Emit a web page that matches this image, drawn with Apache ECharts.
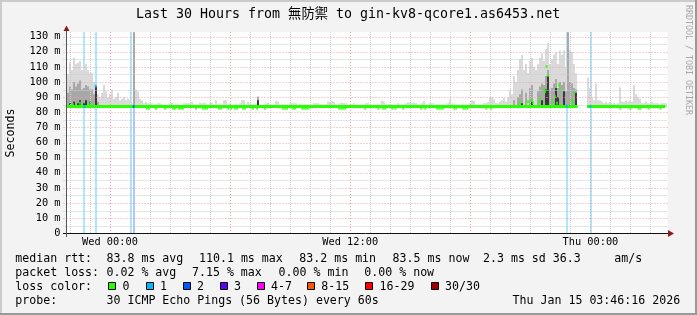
<!DOCTYPE html>
<html><head><meta charset="utf-8">
<script src="https://cdn.jsdelivr.net/npm/echarts@6/dist/echarts.min.js"></script>
<style>html,body{margin:0;padding:0;background:#f3f3f3}#c{width:697px;height:315px}</style>
</head><body><div id="c"></div>
<script>
// ---------- data ----------
const T0 = -2.17;            // hours relative to Wed 00:00 at left edge of graph
const STEP = 0.1;            // hours per smoke sample
const X_MAX = 27.85;
const Y_MAX = 133.1;
const xTickHours = [0, 12, 24];
const xTickLabels = ['Wed 00:00', 'Wed 12:00', 'Thu 00:00'];
const gridMinorHours = [-2,-1,1,2,3,4,5,7,8,9,10,11,13,14,15,16,17,19,20,21,22,23,25,26,27];
const gridMajorHours = [0,6,12,18,24];
const gridMinorMs = [5,15,25,35,45,55,65,75,85,95,105,115,125];
const gridMajorMs = [10,20,30,40,50,60,70,80,90,100,110,120,130];

// smoke: highest ping per sample (ms)
const smokeHi = [
105,113,108,116,112,113,114,108,110,112,108,106,106,100,97,92,90,93,98,94,
90,92,95,89,90,93,88,89,90,88,89,88,86,133,95,94,89,88,86,87,
86,86,86,85,85,86,86,85,85,85,85,86,86.4,85,85,85,85,85,86,86,
86,86,87,85,85,85,86.4,86,86.4,86,85,86.4,86.4,85,88,85,85,85,88,88.2,
85,86,85,85,85,85,86,88.2,88,85,87,86,85,85,86,90.8,85,85,85,86,
86.5,85,85,85,87.7,87,85,85,85,85,85,86,86,86,86,85,85.5,85,85,85,
85,85,85,86,86,86,85,85,85,85,87,87,87.5,87,85,85,86,86.4,86,86,
85,85,85,86,85,85,85,85,85,86,86,85,85,85,85,85,85,87.7,87,85,
85,85,85,85,85,86,85,85,85,86,86.5,86.5,86,86.5,86,85,85,86,87.5,85,
85,86,86,85,85,85,85,85,85,85,86,88.6,86,85,85,85,85,85,85,85,
85,86,88,87.7,85,85,85,85,86,86,87,89.9,90,88.6,86,86,87,88,89.5,87,
90,95,92,104,100,108,115,118,108,112,106,114,116,110,108,112,116,119,114,122,
126,112,115,118,120,112,121,118,121,110,133,121,120,112,106,null,null,null,null,null,
103,96,90,88,99,88,88,87,86,87,86,87,86,86,85,86,96.5,87,87,88,
87,88,87,98,92,90,89,86,86,87,86,86,87,86,86,86,85,86,86,86
];
// denser smoke cores: [sample index, mid-grey top, dark top]
const smokeCore = [
[0,93,0],[1,97,86],[2,95,0],[3,100,87],[4,97,0],[5,99,86],[6,101,88],[7,95,0],[8,96,86],
[9,98,88],[10,97,0],[11,95,87],[12,95,0],[13,92,0],[14,97,97],[15,87,0],
[33,133,0],[95,90,88],
[223,88,0],[225,90,0],[226,92,0],[227,95,86],[229,93,0],[231,96,0],[232,98,87],[235,94,0],
[236,97,0],[237,99,88],[238,98,0],[239,104,95],[240,108,104],[241,95,0],[242,96,0],[243,99,0],
[244,102,96],[245,96,90],[246,100,0],[247,98,0],[248,100,94],[249,94,0],[250,133,0],[251,100,0],
[252,99,0],[253,96,0],[254,95,93]
];
const medianBase = 83.8;
const medianSegments = [[-2.15, 23.36], [23.83, 27.74]];  // [start h, end h]
const medianDipMs = 82.4;
const medianDipHours = [1.85,1.95,2.30,2.75,3.15,3.25,3.45,3.55,3.65,4.30,4.65,4.75,4.85,5.45,5.55,5.90,
6.05,6.25,6.35,6.65,6.75,7.15,7.35,7.75,8.65,8.75,8.85,9.15,9.25,9.60,9.70,9.80,9.90,11.45,11.55,11.65,
11.75,12.75,13.40,13.65,13.75,14.10,14.25,14.65,15.55,15.75,16.35,16.45,16.55,16.65,17.20,17.30,17.65,
17.75,17.85,18.80,19.05,25.50,26.00,26.40,26.50,26.90,27.50];
// median points off the base line: [hour, ms, loss level]
const medianPts = [
[-1.85,85,0],[-1.50,86,0],[-1.00,85.5,0],[-0.71,97.4,1],[-1.28,83.8,1],[1.18,83.8,2],
[20.48,86.8,0],[20.88,87,0],[21.03,88,0],[21.13,86.5,0],[21.43,87,0],[21.48,89.3,0],[21.68,94.8,0],
[21.73,93.7,0],[21.81,110.3,0],[21.88,104.5,0],[22.08,87,0],[22.23,90.3,0],[22.33,86,0],[22.43,98,0],
[22.48,95.3,0],[22.81,83.8,1],[23.06,88,0],[23.13,87,0],[23.18,92.7,0],[24.00,83.8,1]
];
// loss events: [hour, loss level]
const lossEvents = [[-1.28,1],[-0.68,1],[1.06,1],[1.18,2],[22.81,1],[24.01,1]];
const lossColors = ['#26ff00','#00b8ff','#0059ff','#5e00ff','#ff00ff','#ff5500','#ff0000','#a00000'];
const lossLabels = ['0','1','2','3','4-7','8-15','16-29','30/30'];

const titleText = 'Last 30 Hours from 無防禦 to gin-kv8-qcore1.as6453.net';
const statRows = [
  [[15.3,'median rtt:'],[106.5,'83.8 ms avg'],[199,'110.1 ms max'],[299.3,'83.2 ms min'],[392.6,'83.5 ms now'],[483,'2.3 ms sd'],[552.8,'36.3'],[614.3,'am/s']],
  [[15.3,'packet loss:'],[106.5,'0.02 % avg'],[192,'7.15 % max'],[278.6,'0.00 % min'],[364.3,'0.00 % now']],
  [[15.3,'loss color:']],
  [[15.3,'probe:'],[106.5,'30 ICMP Echo Pings (56 Bytes) every 60s'],[512.6,'Thu Jan 15 03:46:16 2026']]
];
const statRowY = [259.3, 273.3, 287.3, 301.3];
const legendBoxX = [108.3,145.7,182.7,219.7,256.7,307,365.3,430.7];

// ---------- chart ----------
const MONO = '"DejaVu Sans Mono", "Noto Sans CJK TC", monospace';
const GL = 66.5, GT = 32, GW = 601, GH = 201.3;
const SMOKE_BASE = 83.3;
const hourOf = i => T0 + STEP * (i + 0.5);

const coreMap = {};
smokeCore.forEach(([i, m, d]) => { coreMap[i] = [m, d]; });
const smokeData = [];
smokeHi.forEach((v, i) => {
  if (v == null) return;
  const c = coreMap[i] || [0, 0];
  smokeData.push([hourOf(i), v, c[0], c[1]]);
});
const medianLineData = [];
medianSegments.forEach(([s, e]) => {
  medianLineData.push([s, medianBase], [e, medianBase], [e, null]);
});
const gridVData = gridMinorHours.map(h => [h, 0, 0]).concat(gridMajorHours.map(h => [h, 0, 1]));
const gridHData = gridMinorMs.map(v => [T0, v, 0]).concat(gridMajorMs.map(v => [T0, v, 1]));

const chart = echarts.init(document.getElementById('c'), null, {renderer: 'canvas', width: 697, height: 315});

const graphics = [
  {type:'rect', shape:{x:0,y:0,width:697,height:2}, style:{fill:'#cbcbcb'}, z:10},
  {type:'rect', shape:{x:0,y:0,width:2,height:315}, style:{fill:'#cbcbcb'}, z:10},
  {type:'rect', shape:{x:0,y:313,width:697,height:2}, style:{fill:'#999999'}, z:10},
  {type:'rect', shape:{x:695,y:0,width:2,height:315}, style:{fill:'#999999'}, z:10},
  // axes
  {type:'line', shape:{x1:63,y1:233.5,x2:668,y2:233.5}, style:{stroke:'#111',lineWidth:1}, z:20},
  {type:'line', shape:{x1:66.5,y1:237,x2:66.5,y2:30}, style:{stroke:'#555',lineWidth:1}, z:20},
  {type:'polygon', shape:{points:[[668,230],[674,233.5],[668,237]]}, style:{fill:'#8e1b1b'}, z:20},
  {type:'polygon', shape:{points:[[63.5,31],[66.5,25.5],[69.5,31]]}, style:{fill:'#8e1b1b'}, z:20},
  // title & side texts
  {type:'text', x:136, y:15, style:{text:titleText, font:'13.3px ' + MONO, fill:'#000', textVerticalAlign:'middle'}, z:20},
  {type:'text', x:11, y:133, rotation:Math.PI/2, style:{text:'Seconds', font:'11.6px ' + MONO, fill:'#000', textAlign:'center', textVerticalAlign:'middle'}, z:20},
  {type:'text', x:688, y:60, rotation:-Math.PI/2, style:{text:'RRDTOOL / TOBI OETIKER', font:'8.3px ' + MONO, fill:'#a8a8a8', textAlign:'center', textVerticalAlign:'middle'}, z:20}
];
statRows.forEach((row, r) => {
  row.forEach(([x, t]) => {
    graphics.push({type:'text', x:x, y:statRowY[r], style:{text:t, font:'11.6px ' + MONO, fill:'#000', textVerticalAlign:'middle'}, z:20});
  });
});
legendBoxX.forEach((bx, k) => {
  graphics.push({type:'rect', shape:{x:Math.round(bx)+0.5, y:282.5, width:7, height:7}, style:{fill:lossColors[k], stroke:'#000', lineWidth:1}, z:20});
  graphics.push({type:'text', x:bx + 14.3, y:statRowY[2], style:{text:lossLabels[k], font:'11.6px ' + MONO, fill:'#000', textVerticalAlign:'middle'}, z:20});
});

const option = {
  backgroundColor: '#f3f3f3',
  animation: false,
  grid: {left: GL, top: GT, width: GW, height: GH, show: true, backgroundColor: '#ffffff', borderWidth: 0, containLabel: false, outerBoundsMode: 'none'},
  xAxis: {
    type: 'value', min: T0, max: X_MAX,
    axisLine: {show: false}, axisTick: {show: false}, splitLine: {show: false},
    axisLabel: {
      customValues: xTickHours,
      formatter: v => { const k = xTickHours.indexOf(v); return k >= 0 ? xTickLabels[k] : ''; },
      color: '#000', fontFamily: MONO, fontSize: 10.3, margin: 4
    }
  },
  yAxis: {
    type: 'value', min: 0, max: Y_MAX, interval: 10,
    axisLine: {show: false}, axisTick: {show: false}, splitLine: {show: false},
    axisLabel: {
      formatter: v => v === 0 ? '0' : (Math.abs(v % 10) < 1e-6 ? v + ' m' : ''),
      color: '#000', fontFamily: MONO, fontSize: 10.3, margin: 6
    }
  },
  series: [
    { // loss background stripes
      type: 'custom', z: 1, silent: true, data: lossEvents, encode: {x: 0, y: 1},
      renderItem: (params, api) => {
        const cs = params.coordSys;
        const x = Math.round(api.coord([api.value(0), 0])[0]);
        return {type: 'rect', shape: {x: x - 1, y: cs.y, width: 2, height: cs.height},
                style: {fill: lossColors[api.value(1)], opacity: 0.33}};
      }
    },
    { // smoke
      type: 'custom', z: 2, silent: true, data: smokeData, encode: {x: 0, y: 1},
      renderItem: (params, api) => {
        const cs = params.coordSys;
        const h = api.value(0);
        const x0 = Math.round(api.coord([h - STEP / 2, SMOKE_BASE])[0]);
        const x1 = Math.round(api.coord([h + STEP / 2, SMOKE_BASE])[0]);
        const yb = api.coord([h, SMOKE_BASE])[1];
        const children = [];
        [[1, '#dadada'], [2, '#a8a8a8'], [3, '#3a3a3a']].forEach(([d, col]) => {
          const v = api.value(d);
          if (!(v > SMOKE_BASE)) return;
          let yt = api.coord([h, v])[1];
          if (yt < cs.y) yt = cs.y;
          children.push({type: 'rect', shape: {x: x0, y: yt, width: x1 - x0, height: yb - yt}, style: {fill: col}});
        });
        return {type: 'group', children};
      }
    },
    { // vertical grid
      type: 'custom', z: 3, silent: true, data: gridVData, encode: {x: 0, y: 1},
      renderItem: (params, api) => {
        const cs = params.coordSys;
        const x = Math.round(api.coord([api.value(0), 0])[0]) + 0.5;
        const major = api.value(2) === 1;
        return {type: 'line', shape: {x1: x, y1: cs.y, x2: x, y2: cs.y + cs.height},
                style: {stroke: major ? '#eaa2a2' : '#cdcdcd', lineWidth: 1, lineDash: major ? [1, 2] : [1, 1]}};
      }
    },
    { // horizontal grid
      type: 'custom', z: 3, silent: true, data: gridHData, encode: {x: 0, y: 1},
      renderItem: (params, api) => {
        const cs = params.coordSys;
        const y = Math.round(api.coord([T0, api.value(1)])[1]) + 0.5;
        const major = api.value(2) === 1;
        return {type: 'line', shape: {x1: cs.x - 3, y1: y, x2: cs.x + cs.width, y2: y},
                style: {stroke: major ? '#eaa2a2' : '#cdcdcd', lineWidth: 1, lineDash: major ? [1, 2] : [1, 1]}};
      }
    },
    { // median base line
      type: 'line', z: 4, silent: true, data: medianLineData, showSymbol: false, symbol: 'none',
      connectNulls: false, lineStyle: {color: lossColors[0], width: 3}
    },
    { // median dips
      type: 'scatter', z: 5, silent: true, symbol: 'rect', symbolSize: [2, 2],
      data: medianDipHours.map(h => [h, medianDipMs]), itemStyle: {color: lossColors[0]}
    },
    { // median points
      type: 'scatter', z: 6, silent: true, symbol: 'rect', symbolSize: [2, 3],
      data: medianPts, itemStyle: {color: p => lossColors[p.data[2]]}
    }
  ],
  graphic: graphics
};
chart.setOption(option);
</script>
</body></html>
